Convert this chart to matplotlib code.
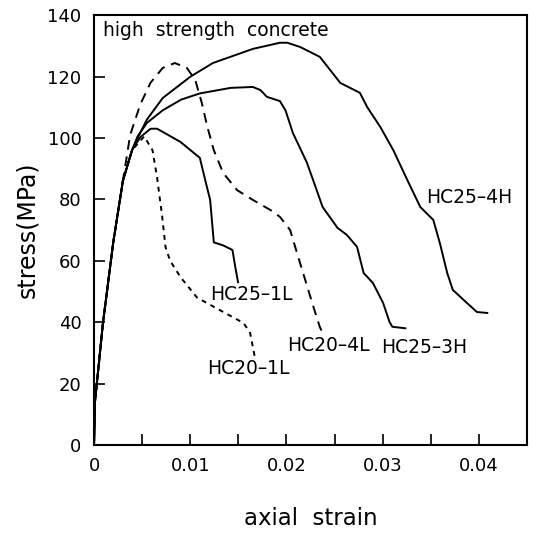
import matplotlib
matplotlib.use("Agg")
import matplotlib.pyplot as plt
from matplotlib.ticker import MultipleLocator, FixedLocator

# shared initial ascending branch
asc_strain = [0.0, 0.0001, 0.00094, 0.0020, 0.0030]
asc_stress = [0.0, 14.0, 40.0, 66.0, 86.0]

hc25_4h_strain = asc_strain + [0.00395, 0.00453, 0.0055, 0.00714, 0.01004, 0.01236, 0.01651, 0.01932, 0.02009,
                               0.02144, 0.02347, 0.0256, 0.02763, 0.0284, 0.02975, 0.03111, 0.03256, 0.03391,
                               0.03526, 0.03594, 0.03671, 0.03729, 0.03874, 0.0398, 0.04087]
hc25_4h_stress = asc_stress + [96.0, 100.0, 106.0, 113.0, 120.0, 124.4, 129.0, 131.0, 131.0,
                               129.6, 126.4, 117.9, 114.7, 110.0, 103.6, 96.0, 86.3, 77.5,
                               73.3, 65.8, 56.0, 50.5, 46.3, 43.3, 43.0]

hc25_3h_strain = asc_strain + [0.00395, 0.00453, 0.0055, 0.00714, 0.00907, 0.0110, 0.01419, 0.01651, 0.01729,
                               0.01796, 0.01932, 0.0199, 0.02067, 0.02212, 0.0228, 0.02376, 0.02531, 0.02628,
                               0.02734, 0.02802, 0.02898, 0.03004, 0.03072, 0.03101, 0.03236]
hc25_3h_stress = asc_stress + [96.0, 100.5, 104.9, 109.0, 112.5, 114.5, 116.3, 116.6, 115.6,
                               113.4, 112.0, 109.0, 101.6, 92.0, 86.0, 77.5, 70.7, 68.4,
                               64.5, 56.0, 52.8, 46.3, 40.0, 38.5, 38.0]

hc25_1l_strain = asc_strain + [0.00395, 0.00482, 0.00588, 0.00656, 0.00898, 0.0110, 0.01158, 0.01207, 0.01245,
                               0.01342, 0.01439, 0.01468, 0.01497]
hc25_1l_stress = asc_stress + [96.0, 100.3, 103.0, 103.0, 98.7, 93.5, 86.0, 79.8, 66.0,
                               65.0, 63.5, 58.0, 53.0]

hc20_4l_strain = asc_strain + [0.00376, 0.00482, 0.00588, 0.00714, 0.0084, 0.00965, 0.01052, 0.0112, 0.01178,
                               0.01245, 0.01342, 0.01487, 0.01651, 0.01835, 0.01932, 0.02038, 0.02144, 0.02212,
                               0.0228, 0.02347, 0.02376]
hc20_4l_stress = asc_stress + [101.0, 111.0, 118.0, 122.8, 124.4, 122.8, 118.9, 111.4, 103.6,
                               96.0, 88.6, 83.0, 79.8, 76.5, 74.3, 70.0, 59.0, 52.0,
                               45.0, 38.4, 36.5]

hc20_1l_strain = asc_strain + [0.00395, 0.00521, 0.00608, 0.00656, 0.00685, 0.00704, 0.00743, 0.00791, 0.00898,
                               0.01071, 0.01245, 0.01555, 0.01622, 0.01671]
hc20_1l_stress = asc_stress + [96.0, 100.5, 96.0, 87.0, 80.0, 75.6, 64.5, 60.0, 54.7,
                               48.0, 45.0, 39.7, 36.5, 28.7]

labels = ["HC25-4H", "HC25-3H", "HC25-1L", "HC20-4L", "HC20-1L"]
label_strain = [0.0345, 0.0298, 0.01206, 0.02006, 0.01174]
label_stress = [80.5, 31.8, 48.9, 32.5, 25.0]

x_ticks = [0.0, 0.01, 0.02, 0.03, 0.04]
x_ticklabels = ["0", "0.01", "0.02", "0.03", "0.04"]
y_ticks = [0, 20, 40, 60, 80, 100, 120, 140]

fig = plt.figure(figsize=(5.36, 5.34), dpi=100)
ax = fig.add_axes([0.1754, 0.1667, 0.8078, 0.805])

lw = 1.4
ax.plot(hc25_4h_strain, hc25_4h_stress, color="black", lw=lw)
ax.plot(hc25_3h_strain, hc25_3h_stress, color="black", lw=lw)
ax.plot(hc25_1l_strain, hc25_1l_stress, color="black", lw=lw)
ax.plot(hc20_4l_strain, hc20_4l_stress, color="black", lw=lw, linestyle=(0, (5, 3.5)))
ax.plot(hc20_1l_strain, hc20_1l_stress, color="black", lw=lw, linestyle=(0, (2.5, 2.5)))

for t, xs, ys in zip(labels, label_strain, label_stress):
    ax.text(xs, ys, t.replace("-", "\u2013"), fontsize=13.5, ha="left", va="center", color="black")

ax.text(0.00094, 135, "high  strength  concrete", fontsize=13.5, ha="left", va="center")

ax.set_xlim(0, 0.045)
ax.set_ylim(0, 140)
ax.xaxis.set_major_locator(FixedLocator(x_ticks))
ax.set_xticklabels(x_ticklabels)
ax.xaxis.set_minor_locator(MultipleLocator(0.005))
ax.set_yticks(y_ticks)
ax.tick_params(axis="both", which="both", direction="in", length=8, width=1.2, labelsize=13)
ax.tick_params(axis="x", which="major", pad=9)
ax.tick_params(axis="y", which="major", pad=9)
for s in ax.spines.values():
    s.set_linewidth(1.5)

ax.set_xlabel("axial  strain", fontsize=16.5, labelpad=23)
ax.set_ylabel("stress(MPa)", fontsize=17, labelpad=6)

fig.savefig("out.png", dpi=100)
